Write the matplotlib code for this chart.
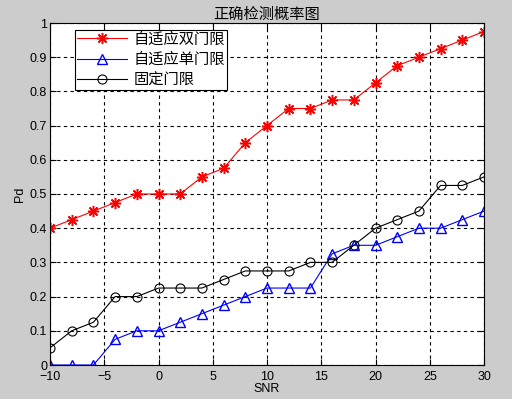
import numpy as np
import matplotlib.pyplot as plt

plt.rcParams['font.family'] = ['Liberation Sans', 'Noto Sans CJK SC']

snr = list(range(-10, 31, 2))
pd_dual = [0.4, 0.425, 0.45, 0.475, 0.5, 0.5, 0.5, 0.55, 0.575, 0.65, 0.7,
           0.75, 0.75, 0.775, 0.775, 0.825, 0.875, 0.9, 0.925, 0.95, 0.975]
pd_single = [0, 0, 0, 0.075, 0.1, 0.1, 0.125, 0.15, 0.175, 0.2, 0.225,
             0.225, 0.225, 0.325, 0.35, 0.35, 0.375, 0.4, 0.4, 0.425, 0.45]
pd_fixed = [0.05, 0.1, 0.125, 0.2, 0.2, 0.225, 0.225, 0.225, 0.25, 0.275, 0.275,
            0.275, 0.3, 0.3, 0.35, 0.4, 0.425, 0.45, 0.525, 0.525, 0.55]
labels = ['自适应双门限', '自适应单门限', '固定门限']

fig = plt.figure(figsize=(5.12, 3.99), dpi=100, facecolor='#cccccc')
ax = fig.add_axes([50/512, 34/399, 434/512, 342/399])

# MATLAB-like '*' marker: 8-spoke asterisk
ax.plot(snr, pd_dual, color='r', lw=0.8, marker=(8, 2, 0), ms=8, mew=1.1, label=labels[0])
ax.plot(snr, pd_single, color='b', lw=0.8, marker='^', ms=7, mfc='none', mew=1, label=labels[1])
ax.plot(snr, pd_fixed, color='k', lw=0.8, marker='o', ms=6.5, mfc='none', mew=0.8, label=labels[2])

ax.set_xlim(-10, 30)
ax.set_ylim(0, 1)
ax.set_xticks(np.arange(-10, 31, 5))
ax.set_yticks(np.arange(0, 1.01, 0.1))
ax.set_yticklabels(['0', '0.1', '0.2', '0.3', '0.4', '0.5', '0.6', '0.7', '0.8', '0.9', '1'])
ax.grid(True, color='k', linestyle=(0, (3, 3)), lw=0.8)
ax.tick_params(direction='in', labelsize=9, length=4, top=True, right=True, pad=2)
ax.tick_params(axis='x', pad=4.5)
for s in ax.spines.values():
    s.set_linewidth(0.8)

ax.set_xlabel('SNR', fontsize=9, labelpad=0)
ax.set_ylabel('Pd', fontsize=9, labelpad=3)
ax.set_title('正确检测概率图', fontsize=11, pad=3)

leg = ax.legend(loc='upper left', bbox_to_anchor=(0.057, 0.98), fontsize=11,
                fancybox=False, framealpha=1, edgecolor='k', borderpad=0.15,
                labelspacing=0.4, handlelength=3.3, handletextpad=0.4, borderaxespad=0)
leg.get_frame().set_linewidth(0.8)

fig.savefig('out.png', dpi=100, facecolor=fig.get_facecolor())
